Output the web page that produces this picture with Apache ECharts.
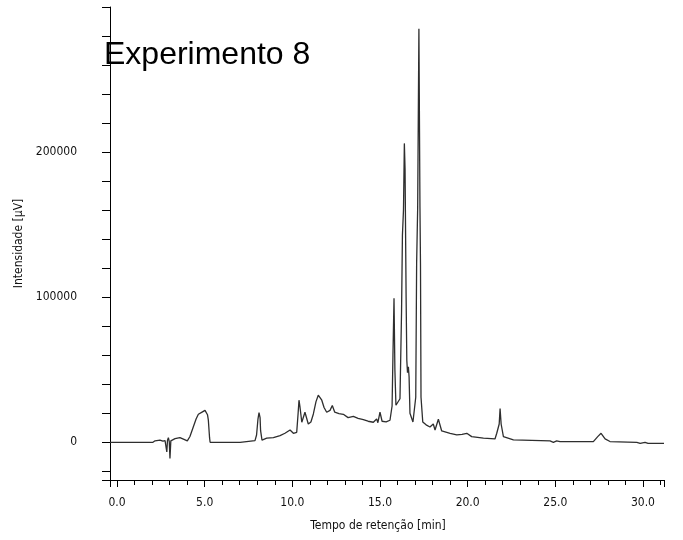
<!DOCTYPE html>
<html>
<head>
<meta charset="utf-8">
<script src="https://cdn.jsdelivr.net/npm/echarts@6/dist/echarts.min.js"></script>
<style>
  html, body { margin: 0; padding: 0; background: #fff; }
  #chart { width: 683px; height: 540px; }
</style>
</head>
<body>
<div id="chart"></div>
<script>
// retention time [min]
var times = [
  -0.4, 2.05, 2.17, 2.45, 2.62, 2.74, 2.84, 2.88, 2.93, 2.98, 3.02, 3.07, 3.12, 3.31, 3.59, 3.82, 4.01,
  4.16, 4.35, 4.51, 4.64, 4.85, 5.02, 5.08, 5.16, 5.21, 5.28, 5.31, 7.02, 7.13, 7.87, 7.96, 8.04, 8.10,
  8.16, 8.19, 8.27, 8.54, 8.92, 9.30, 9.58, 9.87, 10.06, 10.25, 10.33, 10.38, 10.44, 10.54, 10.72, 10.91,
  11.06, 11.20, 11.35, 11.48, 11.57, 11.68, 11.81, 11.96, 12.15, 12.28, 12.42, 12.66, 12.91, 13.18, 13.48,
  13.75, 14.05, 14.32, 14.62, 14.72, 14.81, 14.88, 15.00, 15.12, 15.35, 15.57, 15.69, 15.74, 15.80, 15.85,
  15.91, 16.02, 16.14, 16.23, 16.28, 16.34, 16.39, 16.43, 16.49, 16.53, 16.57, 16.62, 16.66, 16.71, 16.88,
  17.04, 17.09, 17.15, 17.22, 17.28, 17.31, 17.34, 17.44, 17.63, 17.85, 18.04, 18.14, 18.33, 18.52, 19.00,
  19.38, 19.68, 19.95, 20.23, 20.90, 21.56, 21.66, 21.80, 21.85, 21.91, 22.04, 22.61, 24.70, 24.89, 25.08,
  25.27, 27.17, 27.42, 27.61, 27.84, 28.12, 29.65, 29.84, 30.12, 30.29, 31.2
];
// intensity [µV]
var intensity = [
  0, 0, 1000, 1500, 800, 1200, -6700, 1500, 3200, 500, -11200, 1000, 1800, 2500, 3200, 2000, 1000,
  4000, 10500, 16000, 19300, 20800, 22000, 22500, 19000, 15200, 3000, 0, 0, 1100, 1100, 5000, 16000, 20500,
  17000, 8000, 1500, 2800, 3200, 4600, 6200, 8500, 6200, 6900, 20000, 29000, 24000, 13800, 20700, 12600,
  14000, 19500, 28000, 32400, 31000, 29000, 24000, 20700, 22000, 25300, 20700, 19800, 19300, 17000, 17800,
  16500, 15600, 14500, 13800, 14500, 16100, 13500, 20700, 14500, 14000, 15200, 25000, 60000, 99300, 50000,
  25500, 25000, 30000, 90000, 142700, 160000, 206000, 188000, 100000, 56500, 48000, 52000, 45000, 20000, 14000,
  31000, 123000, 162000, 285000, 162000, 123000, 31000, 14000, 12000, 10500, 12600, 8500, 15900, 7800, 6200,
  5100, 5500, 6200, 3900, 2800, 2300, 6200, 12600, 23200, 12600, 3900, 1600, 900, 0, 900,
  500, 400, 3900, 6200, 2300, 500, 0, -700, 0, -700, -700
];
var xTickLabels = [0, 5, 10, 15, 20, 25, 30];
var yTickLabels = [0, 100000, 200000];

var chart = echarts.init(document.getElementById('chart'));
var axisFont = '"DejaVu Sans Condensed", "DejaVu Sans", sans-serif';

chart.setOption({
  backgroundColor: '#fff',
  animation: false,
  title: {
    text: 'Experimento 8',
    left: 104,
    top: 39,
    padding: 0,
    textStyle: { fontFamily: '"Liberation Sans", Arial, sans-serif', fontSize: 32, fontWeight: 'normal', color: '#000' }
  },
  grid: { left: 110, right: 19, top: 7, bottom: 60 },
  xAxis: {
    type: 'value',
    min: -0.4,
    max: 31.2,
    splitNumber: 6,
    name: 'Tempo de retenção [min]',
    nameLocation: 'middle',
    nameGap: 40,
    nameTextStyle: { fontFamily: axisFont, fontSize: 12, color: '#111', padding: [0, 18, 0, 0] },
    axisLine: { onZero: false, lineStyle: { color: '#000', width: 1 } },
    axisTick: { length: 7, lineStyle: { color: '#000' } },
    minorTick: { show: true, splitNumber: 5, length: 5, lineStyle: { color: '#000' } },
    splitLine: { show: false },
    axisLabel: {
      margin: 17,
      fontFamily: axisFont, fontSize: 12, color: '#111',
      formatter: function (v) { return xTickLabels.indexOf(v) >= 0 ? v.toFixed(1) : ''; }
    }
  },
  yAxis: {
    type: 'value',
    min: -26000,
    max: 300000,
    splitNumber: 16,
    name: 'Intensidade [µV]',
    nameLocation: 'middle',
    nameGap: 82,
    nameTextStyle: { fontFamily: axisFont, fontSize: 12, color: '#111' },
    axisLine: { show: true, onZero: false, lineStyle: { color: '#000', width: 1 } },
    axisTick: { show: true, length: 8, lineStyle: { color: '#000' } },
    splitLine: { show: false },
    axisLabel: {
      margin: 33,
      fontFamily: axisFont, fontSize: 12, color: '#111',
      formatter: function (v) { return yTickLabels.indexOf(v) >= 0 ? String(v) : ''; }
    }
  },
  series: [
    {
      type: 'line',
      showSymbol: false,
      symbol: 'none',
      lineStyle: { color: '#2e2e2e', width: 1.3 },
      data: times.map(function (t, i) { return [t, intensity[i]]; })
    }
  ]
});

window.addEventListener('resize', function () {
  chart.resize();
});
</script>
</body>
</html>
